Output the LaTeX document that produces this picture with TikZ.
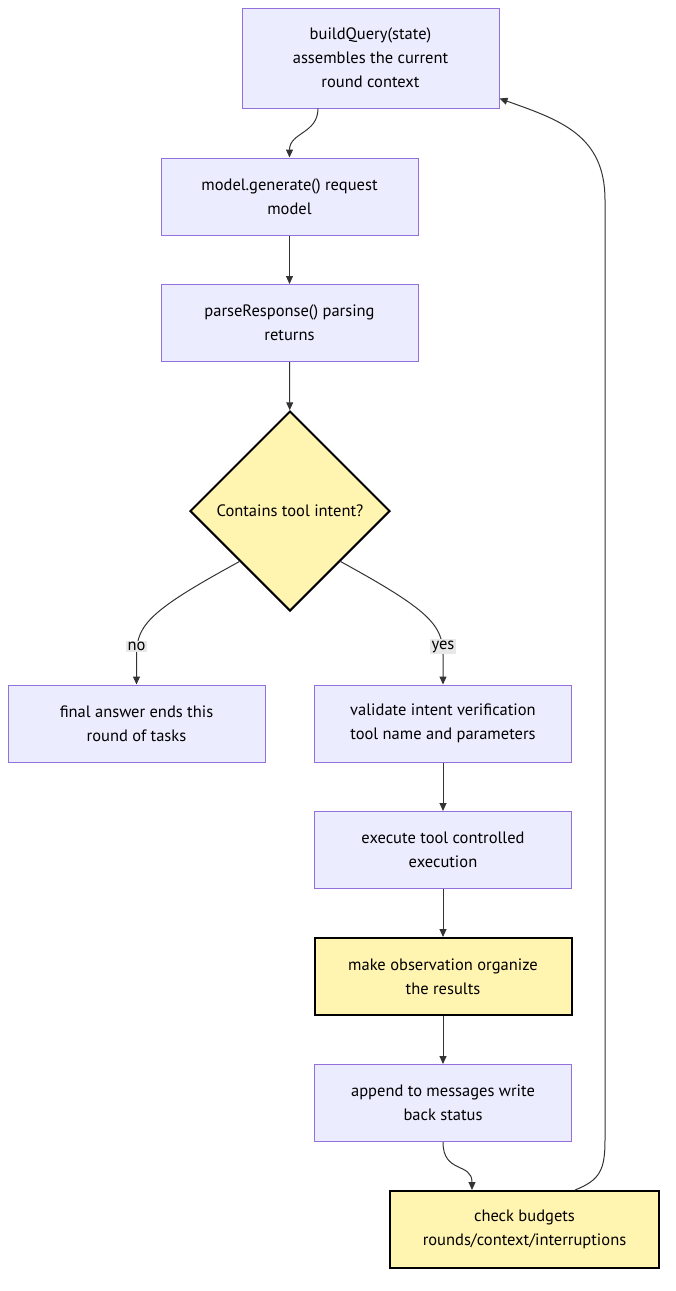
\documentclass[tikz,border=0pt]{standalone}
\usepackage{fontspec}
\setmainfont{PT Sans}
\usetikzlibrary{shapes.geometric,arrows.meta,positioning}
\definecolor{boxfill}{HTML}{ECECFF}
\definecolor{boxline}{HTML}{9370DB}
\definecolor{markfill}{HTML}{FFF4B0}
\definecolor{edgeline}{HTML}{333333}
\definecolor{tagfill}{HTML}{E8E8E8}
\tikzset{
    stepbox/.style={
           rectangle,
           draw=boxline, fill=boxfill,
           line width=1pt,
           minimum width=257pt,
           minimum height=77pt,
           align=center,
           font=\fontsize{16.5}{24}\selectfont
           },
    markbox/.style={
           stepbox,
           draw=black, fill=markfill,
           line width=2pt
           },
    decide/.style={
           diamond,
           draw=black, fill=markfill,
           line width=2pt,
           minimum width=200pt,
           minimum height=200pt,
           inner sep=0pt,
           font=\fontsize{16.5}{24}\selectfont
           },
    flow/.style={
           draw=edgeline, line width=1pt,
           -{Triangle[length=8pt,width=7pt]}
           },
    tag/.style={
           fill=tagfill, inner sep=1.5pt,
           font=\fontsize{16.5}{18}\selectfont
           }
}
\begin{document}
\begin{tikzpicture}[x=1pt, y=-1pt, node distance=126.5pt, on grid]
   \useasboundingbox (0,0) rectangle (675,1291);
   \node[stepbox, minimum height=100pt] (bq) at (370.5,58) {buildQuery(state)\\assembles the current\\round context};
   \node[stepbox] (mg) at (289.5,196.5) {model.generate() request\\model};
   \node[stepbox] (pr) [below=of mg] {parseResponse() parsing\\returns};
   \node[decide] (dec) at (290,511) {Contains tool intent?};
   \node[stepbox] (fin) at (136.5,723.5) {final answer ends this\\round of tasks};
   \node[stepbox] (val) at (443,723.5) {validate intent verification\\tool name and parameters};
   \node[stepbox] (exe) [below=of val] {execute tool controlled\\execution};
   \node[markbox] (obs) [below=of exe] {make observation organize\\the results};
   \node[stepbox] (app) [below=of obs] {append to messages write\\back status};
   \node[markbox, minimum width=269pt] (chk) at (524.5,1229.5) {check budgets\\rounds/context/interruptions};
   % straight links
   \draw[flow] ([xshift=-52.5pt]bq.south) .. controls ([xshift=-52.5pt,yshift=-25pt]bq.south) and ([yshift=25pt]mg.north) .. (mg.north);
   \draw[flow] (mg) -- (pr);
   \draw[flow] (pr) -- (dec);
   \draw[flow] (val) -- (exe);
   \draw[flow] (exe) -- (obs);
   \draw[flow] (obs) -- (app);
   % branches
   \draw[flow] (dec.south west) .. controls ([xshift=15pt,yshift=75pt]fin.north) and ([yshift=60pt]fin.north) .. ([yshift=30pt]fin.north) -- (fin.north);
   \draw[flow] (dec.south east) .. controls ([xshift=-15pt,yshift=75pt]val.north) and ([yshift=60pt]val.north) .. ([yshift=30pt]val.north) -- (val.north);
   \node[tag] (no) at ([yshift=38pt]fin.north) {no};
   \node[tag] (yes) at ([yshift=38pt]val.north) {yes};
   % loop back
   \draw[flow] (app.south) .. controls ([yshift=-32pt]app.south) and ([xshift=-52.5pt,yshift=28pt]chk.north) .. ([xshift=-52.5pt]chk.north);
   \draw[flow] ([xshift=50.5pt]chk.north) .. controls (600,1180) and (605,1170) .. (605,1140) -- (605,200)
      .. controls (605,135) and (560,120) .. ([yshift=10pt]bq.south east);
\end{tikzpicture}
\end{document}
